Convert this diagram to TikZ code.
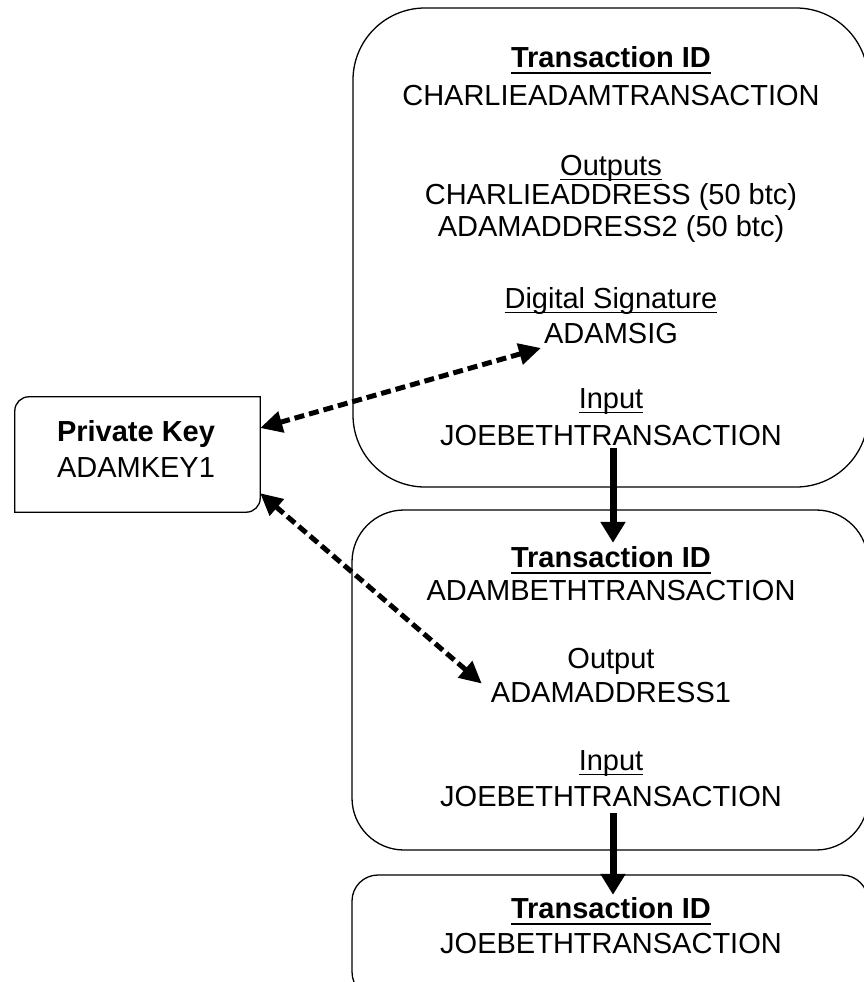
\documentclass[tikz,border=0pt]{standalone}
\usepackage{fontspec}
\setmainfont{Liberation Sans}
\usetikzlibrary{arrows.meta}
\newcommand\ulbold[1]{\setbox0=\hbox{\bfseries #1}\rlap{\rule[-7pt]{\wd0}{2pt}}\box0}
\newcommand\ulreg[1]{\setbox0=\hbox{#1}\rlap{\rule[-5pt]{\wd0}{1.4pt}}\box0}
\tikzset{
  boxline/.style={draw=black, line width=1.3pt},
  txbox/.style={boxline, inner sep=0pt, shape=rectangle},
  txt/.style={inner sep=0pt, anchor=base, font={\fontsize{29}{34}\selectfont}},
  keyarrow/.style={line width=5pt, dash pattern=on 10pt off 5pt, {Triangle[length=22pt,width=21pt]}-{Triangle[length=22pt,width=21pt]}},
  flowarrow/.style={line width=7pt, -{Triangle[length=21pt,width=24pt]}}
}
\begin{document}
\begin{tikzpicture}[x=1pt,y=-1pt]
\useasboundingbox (0,0) rectangle (864,982);
\clip (0,0) rectangle (864,982);
\fill[white] (0,0) rectangle (864,982);
% transaction boxes
\node[txbox, rounded corners=72pt, minimum width=515pt, minimum height=479pt] (box1) at (610.5,247.5) {};
\node[txbox, rounded corners=52pt, minimum width=516pt, minimum height=340pt] (box2) at (610,680) {};
\node[txbox, rounded corners=26pt, minimum width=516pt, minimum height=123pt] (box3) at (610,936.5) {};
% private key box
\node[inner sep=0pt, minimum width=245pt, minimum height=115pt] (pk) at (137.5,454.5) {};
\draw[boxline] ([xshift=14pt]pk.north west) -- (pk.north east) -- ([yshift=14pt]pk.south east)
  arc[start angle=0,end angle=-90,radius=14pt] -- (pk.south west) -- ([yshift=-14pt]pk.north west)
  arc[start angle=180,end angle=90,radius=14pt] -- cycle;
\node[txt] (pktitle) at (136,441) {\bfseries Private Key};
\node[txt] (pkval) at (136,477) {ADAMKEY1};
% box 1 texts
\node[txt] (tid1) at (611,67) {\ulbold{Transaction ID}};
\node[txt] (tid1v) at (611,105) {CHARLIEADAMTRANSACTION};
\node[txt] (out1) at (611,175) {\ulreg{Outputs}};
\node[txt] (out1a) at (611,204) {CHARLIEADDRESS (50 btc)};
\node[txt] (out1b) at (611,236) {ADAMADDRESS2 (50 btc)};
\node[txt] (sig1) at (611,308) {\ulreg{Digital Signature}};
\node[txt] (sig1v) at (611,343) {ADAMSIG};
\node[txt] (in1) at (611,408) {\ulreg{Input}};
\node[txt] (in1v) at (611,445) {JOEBETHTRANSACTION};
% box 2 texts
\node[txt] (tid2) at (611,567) {\ulbold{Transaction ID}};
\node[txt] (tid2v) at (611,600) {ADAMBETHTRANSACTION};
\node[txt] (out2) at (611,668) {Output};
\node[txt] (out2v) at (611,702) {ADAMADDRESS1};
\node[txt] (in2) at (611,770) {\ulreg{Input}};
\node[txt] (in2v) at (611,806) {JOEBETHTRANSACTION};
% box 3 texts
\node[txt] (tid3) at (611,918) {\ulbold{Transaction ID}};
\node[txt] (tid3v) at (611,953) {JOEBETHTRANSACTION};
% connectors
\draw[keyarrow] ([yshift=26.5pt]pk.east) -- ([shift={(-3pt,-5pt)}]sig1v.base west);
\draw[keyarrow] ([yshift=19pt]pk.south east) -- ([shift={(-9pt,-2pt)}]out2v.north west);
\draw[flowarrow, shorten <=3pt, shorten >=3pt] (in1v.south -| 613,0) -- (tid2.north -| 613,0);
\draw[flowarrow, shorten <=7pt, shorten >=2pt] (in2v.south -| 613,0) -- (tid3.north -| 613,0);
\end{tikzpicture}
\end{document}
